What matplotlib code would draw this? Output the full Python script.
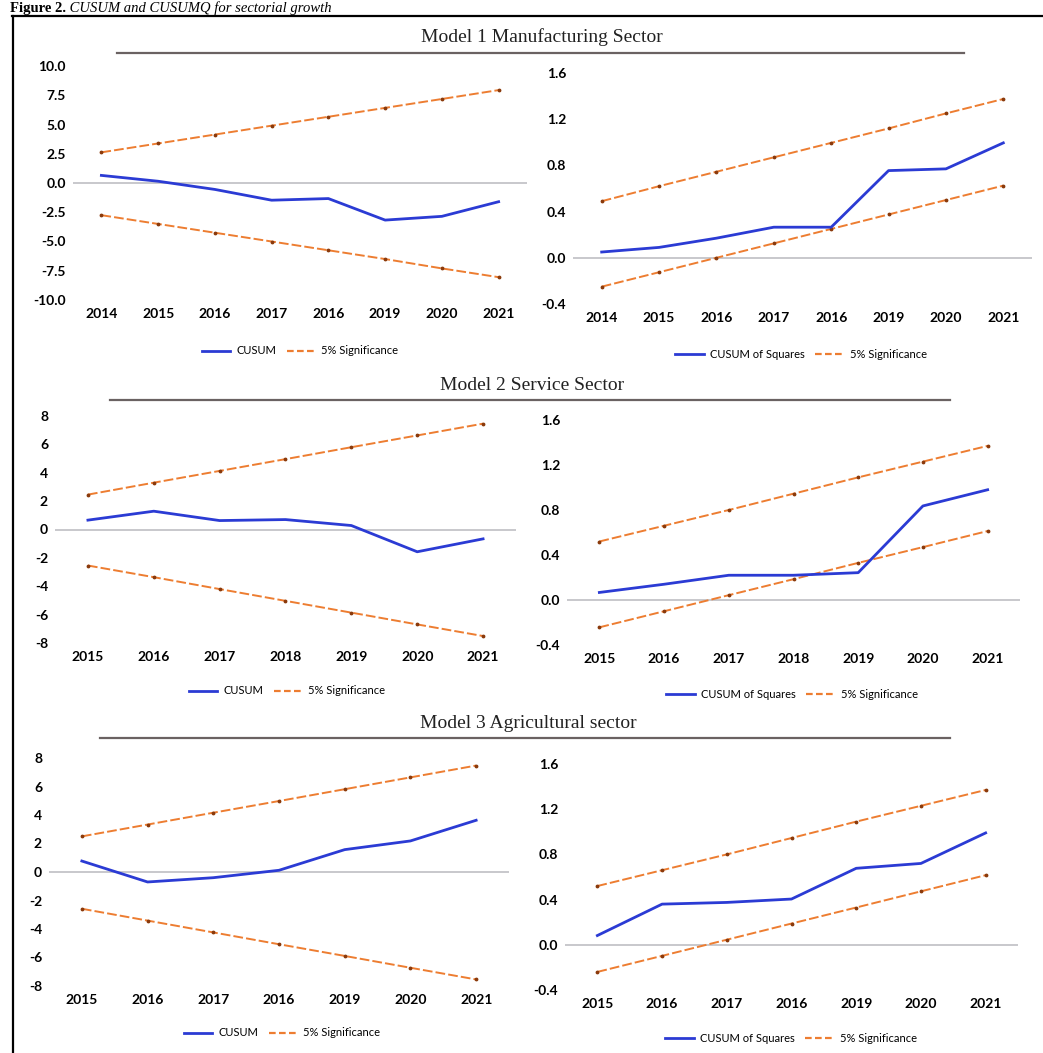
import matplotlib
matplotlib.use("Agg")
import matplotlib.pyplot as plt
from matplotlib.lines import Line2D

# ---------------- data ----------------
years_m1 = [2014, 2015, 2016, 2017, 2018, 2019, 2020, 2021]
years_m23 = [2015, 2016, 2017, 2018, 2019, 2020, 2021]
year_labels_m1 = ["2014", "2015", "2016", "2017", "2016", "2019", "2020", "2021"]
year_labels_m2 = ["2015", "2016", "2017", "2018", "2019", "2020", "2021"]
year_labels_m3 = ["2015", "2016", "2017", "2016", "2019", "2020", "2021"]

# Model 1 Manufacturing
m1_cusum = [0.65, 0.15, -0.55, -1.47, -1.33, -3.17, -2.85, -1.6]
m1_cusum_up = [2.62, 3.38, 4.14, 4.9, 5.66, 6.42, 7.18, 7.94]
m1_cusum_lo = [-2.75, -3.5, -4.25, -5.0, -5.75, -6.5, -7.3, -8.05]
m1_cusumq = [0.05, 0.09, 0.17, 0.265, 0.265, 0.755, 0.77, 0.995]
m1_cusumq_up = [0.49, 0.62, 0.745, 0.87, 0.995, 1.12, 1.25, 1.375]
m1_cusumq_lo = [-0.25, -0.125, 0.0, 0.125, 0.25, 0.375, 0.5, 0.625]

# Model 2 Service
m2_cusum = [0.66, 1.29, 0.63, 0.7, 0.28, -1.57, -0.66]
m2_cusum_up = [2.46, 3.3, 4.13, 4.96, 5.8, 6.63, 7.46]
m2_cusum_lo = [-2.54, -3.36, -4.2, -5.03, -5.86, -6.69, -7.51]
m2_cusumq = [0.067, 0.14, 0.22, 0.22, 0.243, 0.836, 0.98]
m2_cusumq_up = [0.52, 0.66, 0.8, 0.945, 1.09, 1.23, 1.37]
m2_cusumq_lo = [-0.243, -0.1, 0.043, 0.185, 0.33, 0.47, 0.613]

# Model 3 Agricultural
m3_cusum = [0.77, -0.7, -0.4, 0.12, 1.57, 2.18, 3.63]
m3_cusum_up = [2.5, 3.33, 4.16, 4.98, 5.81, 6.64, 7.47]
m3_cusum_lo = [-2.58, -3.41, -4.24, -5.07, -5.89, -6.72, -7.54]
m3_cusumq = [0.082, 0.36, 0.375, 0.405, 0.677, 0.72, 0.99]
m3_cusumq_up = [0.52, 0.66, 0.8, 0.945, 1.09, 1.23, 1.37]
m3_cusumq_lo = [-0.24, -0.098, 0.045, 0.188, 0.33, 0.473, 0.616]

titles = ["Model 1 Manufacturing Sector", "Model 2 Service Sector",
          "Model 3 Agricultural sector"]
caption_bold = "Figure 2."
caption_italic = " CUSUM and CUSUMQ for sectorial growth"
lbl_cusum = "CUSUM"
lbl_cusumq = "CUSUM of Squares"
lbl_sig = "5% Significance"

# ---------------- style ----------------
W, H = 1043, 1053
BLUE = "#2b3bd4"
ORANGE = "#ED7D31"
DOT = "#8a3a0c"
ZERO = "#c4c4c8"
TICKFONT = dict(family="Lato", weight="bold", size=10)

fig = plt.figure(figsize=(W / 100, H / 100), dpi=100)
fig.patch.set_facecolor("white")


def box(l, r, t, b):
    return [l / W, 1 - b / H, (r - l) / W, (b - t) / H]


def panel(rect, years, labels, main, up, lo, xlim, ylim, yticks, fmt):
    ax = fig.add_axes(rect)
    ax.axhline(0, color=ZERO, lw=1.3, zorder=1)
    ax.plot(years, up, color=ORANGE, lw=1.4, dashes=(5, 1.6),
            marker=".", ms=3.5, mfc=DOT, mec=DOT, zorder=2)
    ax.plot(years, lo, color=ORANGE, lw=1.4, dashes=(5, 1.6),
            marker=".", ms=3.5, mfc=DOT, mec=DOT, zorder=2)
    ax.plot(years, main, color=BLUE, lw=2.0, zorder=3)
    ax.set_xlim(*xlim)
    ax.set_ylim(*ylim)
    ax.set_xticks(years)
    ax.set_xticklabels(labels, fontdict=TICKFONT)
    ax.set_yticks(yticks)
    ax.set_yticklabels([fmt.format(v) for v in yticks], fontdict=TICKFONT)
    ax.tick_params(length=0, pad=6)
    ax.tick_params(axis="y", pad=5)
    for s in ax.spines.values():
        s.set_visible(False)
    ax.patch.set_alpha(0)
    return ax


def legend(cx, cy, main_label):
    h = [Line2D([], [], color=BLUE, lw=2.0),
         Line2D([], [], color=ORANGE, lw=1.6, dashes=(3, 1.5))]
    fig.legend(h, [main_label, lbl_sig], loc="center",
               bbox_to_anchor=(cx / W, 1 - cy / H), ncol=2, frameon=False,
               prop=dict(family="Lato", size=8), handlelength=2.6,
               columnspacing=1.0, handletextpad=0.5)


def title(cx, cy, text, l, r, ly):
    fig.text(cx / W, 1 - cy / H, text, ha="center", va="center",
             family="Liberation Serif", size=14, color="#222222")
    fig.add_artist(Line2D([l / W, r / W], [1 - ly / H, 1 - ly / H],
                          color="#6a6262", lw=1.6))


cusum_ticks10 = [10.0, 7.5, 5.0, 2.5, 0.0, -2.5, -5.0, -7.5, -10.0]
cusum_ticks8 = [8, 6, 4, 2, 0, -2, -4, -6, -8]
q_ticks = [1.6, 1.2, 0.8, 0.4, 0.0, -0.4]

# Model 1
title(542, 37, titles[0], 117, 964, 52.5)
panel(box(73, 527, 66, 300), years_m1, year_labels_m1, m1_cusum, m1_cusum_up,
      m1_cusum_lo, (2013.5, 2021.5), (-10, 10), cusum_ticks10, "{:.1f}")
panel(box(573, 1032, 73, 304), years_m1, year_labels_m1, m1_cusumq,
      m1_cusumq_up, m1_cusumq_lo, (2013.5, 2021.5), (-0.4, 1.6), q_ticks,
      "{:.1f}")
legend(300, 351, lbl_cusum)
legend(801, 354, lbl_cusumq)

# Model 2
title(532, 385, titles[1], 110, 950, 400)
panel(box(55, 516, 416, 643), years_m23, year_labels_m2, m2_cusum,
      m2_cusum_up, m2_cusum_lo, (2014.5, 2021.5), (-8, 8), cusum_ticks8,
      "{:d}")
panel(box(567, 1020, 420, 645), years_m23, year_labels_m2, m2_cusumq,
      m2_cusumq_up, m2_cusumq_lo, (2014.5, 2021.5), (-0.4, 1.6), q_ticks,
      "{:.1f}")
legend(287, 691, lbl_cusum)
legend(792, 694, lbl_cusumq)

# Model 3
title(528, 723, titles[2], 100, 950, 738)
panel(box(49, 509, 758, 986), years_m23, year_labels_m3, m3_cusum,
      m3_cusum_up, m3_cusum_lo, (2014.5, 2021.5), (-8, 8), cusum_ticks8,
      "{:d}")
panel(box(565, 1018, 764, 990), years_m23, year_labels_m3, m3_cusumq,
      m3_cusumq_up, m3_cusumq_lo, (2014.5, 2021.5), (-0.4, 1.6), q_ticks,
      "{:.1f}")
legend(282, 1033, lbl_cusum)
legend(791, 1038, lbl_cusumq)

# border
border_y = 15.5
fig.add_artist(Line2D([12 / W, 1.0], [1 - border_y / H, 1 - border_y / H],
                      color="black", lw=1.6))
fig.add_artist(Line2D([12.5 / W, 12.5 / W], [1 - border_y / H, 0.0],
                      color="black", lw=1.6))

# caption
renderer = fig.canvas.get_renderer()
t1 = fig.text(10 / W, 1 - 12 / H, caption_bold, ha="left", va="baseline",
              family="Liberation Serif", weight="bold", size=10.5)
bb = t1.get_window_extent(renderer=renderer)
fig.text(bb.x1 / W, 1 - 12 / H, caption_italic, ha="left", va="baseline",
         family="Liberation Serif", style="italic", size=10.5)

fig.savefig("out.png", dpi=100)
